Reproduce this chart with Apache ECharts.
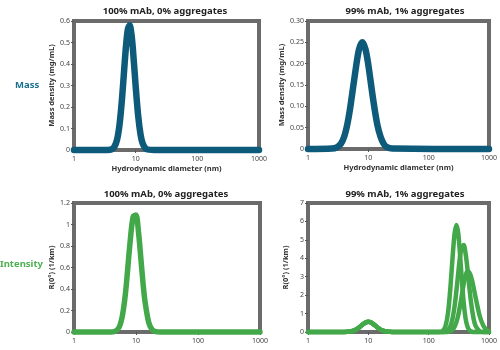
<!DOCTYPE html>
<html>
<head>
<meta charset="utf-8">
<script src="https://cdn.jsdelivr.net/npm/echarts@6/dist/echarts.min.js"></script>
<style>
  html, body { margin: 0; padding: 0; background: #fff; }
  #chart { width: 500px; height: 350px; }
</style>
</head>
<body>
<div id="chart"></div>
<script>
// panel titles and row labels
const panelTitles = ['100% mAb, 0% aggregates', '99% mAb, 1% aggregates', '100% mAb, 0% aggregates', '99% mAb, 1% aggregates']
const rowLabels = ['Mass', 'Intensity']

// mass, 100% mAb
const massDiamA = [1, 3.5, 4, 4.5, 5, 5.5, 6, 6.5, 7, 7.5, 8, 8.5, 9, 10, 11, 12, 13, 15, 20, 1000]
const massValA  = [0, 0, 0.002, 0.014, 0.049, 0.123, 0.237, 0.371, 0.489, 0.563, 0.58, 0.543, 0.472, 0.297, 0.157, 0.072, 0.03, 0.004, 0, 0]

// mass, 99% mAb
const massDiamB = [1, 2.5, 3, 3.5, 4, 4.5, 5, 6, 7, 8, 9, 10, 12, 14, 16, 18, 20, 25, 1000]
const massValB  = [0, 0.001, 0.004, 0.012, 0.03, 0.059, 0.096, 0.175, 0.233, 0.25, 0.233, 0.197, 0.117, 0.059, 0.028, 0.012, 0.005, 0.001, 0]

// intensity, 100% mAb
const intDiamA = [1, 4, 4.5, 5, 5.5, 6, 6.5, 7, 8, 9, 10, 11, 12, 13, 14, 16, 18, 20, 25, 1000]
const intValA  = [0, 0, 0.005, 0.021, 0.062, 0.144, 0.275, 0.447, 0.826, 1.073, 1.088, 0.922, 0.68, 0.45, 0.28, 0.091, 0.025, 0.006, 0, 0]

// intensity, 99% mAb: small monomer peak (shared) + three aggregate replicates
const smallDiam = [1, 4, 5, 6, 7, 8, 9, 10, 11, 12, 14, 16, 18, 20, 25, 100]
const smallVal  = [0, 0.002, 0.024, 0.1, 0.239, 0.397, 0.51, 0.55, 0.52, 0.443, 0.262, 0.13, 0.057, 0.024, 0.002, 0]
const aggDiam1 = [150, 170, 190, 210, 230, 250, 270, 290, 310, 330, 350, 380, 410, 440, 470, 500, 550, 600, 1000]
const aggVal1  = [0.004, 0.053, 0.32, 1.07, 2.47, 4.12, 5.38, 5.8, 5.33, 4.26, 3.1, 1.61, 0.72, 0.29, 0.105, 0.036, 0.005, 0, 0]
const aggDiam2 = [150, 170, 190, 210, 230, 250, 270, 290, 310, 330, 350, 380, 410, 440, 470, 500, 550, 600, 700, 800, 1000]
const aggVal2  = [0, 0.004, 0.025, 0.106, 0.33, 0.76, 1.44, 2.31, 3.23, 4.05, 4.55, 4.72, 4.24, 3.42, 2.5, 1.7, 0.8, 0.33, 0.045, 0.005, 0]
const aggDiam3 = [150, 190, 210, 230, 250, 270, 290, 310, 330, 350, 380, 410, 440, 470, 500, 550, 600, 700, 800, 900, 1000]
const aggVal3  = [0, 0.003, 0.015, 0.052, 0.138, 0.3, 0.56, 0.93, 1.4, 1.88, 2.58, 3.08, 3.3, 3.24, 3.04, 2.49, 1.87, 0.88, 0.36, 0.13, 0.047]

const teal = '#0d5a7a'
const green = '#43a849'
const frame = '#6b6b6b'
const font = '"Noto Sans", "Open Sans", sans-serif'

const zip = (xs, ys) => xs.map((x, i) => [x, ys[i]])

const grids = [
  { left: 74, top: 21, width: 185, height: 129 },
  { left: 308, top: 21, width: 184, height: 128 },
  { left: 74, top: 203, width: 186, height: 129 },
  { left: 308, top: 203, width: 184, height: 129 }
].map(g => ({ ...g, show: true, borderColor: frame, borderWidth: 4, backgroundColor: 'transparent' }))

const xAxes = grids.map((g, i) => ({
  type: 'log', logBase: 10, min: 1, max: 1000, gridIndex: i,
  name: i < 2 ? 'Hydrodynamic diameter (nm)' : '',
  nameLocation: 'middle', nameGap: 15,
  nameTextStyle: { fontFamily: font, fontWeight: 'bold', fontSize: 7.5, color: '#333' },
  axisLine: { show: false },
  axisTick: { show: true, length: 3, lineStyle: { color: '#555' } },
  axisLabel: { fontFamily: font, fontSize: 7, color: '#444', margin: 5, formatter: v => String(Math.round(v)) },
  splitLine: { show: false },
  minorTick: { show: false }
}))

const yCfg = [
  { max: 0.6, interval: 0.1, name: 'Mass density (mg/mL)', gap: 18, fmt: v => v === 0 ? '0' : v.toFixed(1) },
  { max: 0.3, interval: 0.05, name: 'Mass density (mg/mL)', gap: 22, fmt: v => v === 0 ? '0' : v.toFixed(2) },
  { max: 1.2, interval: 0.2, name: 'R(0°) (1/km)', gap: 18, fmt: v => String(+v.toFixed(1)) },
  { max: 7, interval: 1, name: 'R(0°) (1/km)', gap: 18, fmt: v => String(v) }
]
const yAxes = yCfg.map((c, i) => ({
  type: 'value', min: 0, max: c.max, interval: c.interval, gridIndex: i,
  name: c.name, nameLocation: 'middle', nameGap: c.gap,
  nameTextStyle: { fontFamily: font, fontWeight: 'bold', fontSize: 7.5, color: '#333' },
  axisLine: { show: false },
  axisTick: { show: true, length: 3, lineStyle: { color: '#555' } },
  axisLabel: { fontFamily: font, fontSize: 7, color: '#444', margin: 4, formatter: c.fmt },
  splitLine: { show: false }
}))

function line(data, idx, color, width) {
  return {
    type: 'line', xAxisIndex: idx, yAxisIndex: idx, data: data,
    smooth: 0.3, showSymbol: false, clip: false, z: 5,
    lineStyle: { color: color, width: width, cap: 'round', join: 'round' }
  }
}

const small = zip(smallDiam, smallVal)
const series = [
  line(zip(massDiamA, massValA), 0, teal, 6.5),
  line(zip(massDiamB, massValB), 1, teal, 6.5),
  line(zip(intDiamA, intValA), 2, green, 5.5),
  line([...small, ...zip(aggDiam1, aggVal1)], 3, green, 4.5),
  line([...small, ...zip(aggDiam2, aggVal2)], 3, green, 4.5),
  line([...small, ...zip(aggDiam3, aggVal3)], 3, green, 4.5)
]

const titleCenters = [[165, 6], [405, 6], [166, 189], [405, 189]]
const titles = panelTitles.map((t, i) => ({
  text: t, left: titleCenters[i][0], top: titleCenters[i][1], textAlign: 'center', padding: 0,
  textStyle: { fontFamily: font, fontWeight: 'bold', fontSize: 9.5, color: '#222' }
}))

const chart = echarts.init(document.getElementById('chart'), null, { renderer: 'canvas' })
chart.setOption({
  animation: false,
  backgroundColor: '#fff',
  title: titles,
  grid: grids,
  xAxis: xAxes,
  yAxis: yAxes,
  series: series,
  graphic: [
    { type: 'text', left: 15, top: 80, style: { text: rowLabels[0], fill: '#1b6f8f', font: 'bold 9.5px ' + font } },
    { type: 'text', left: 0, top: 259, style: { text: rowLabels[1], fill: '#4caf50', font: 'bold 9.5px ' + font } }
  ]
})
</script>
</body>
</html>
